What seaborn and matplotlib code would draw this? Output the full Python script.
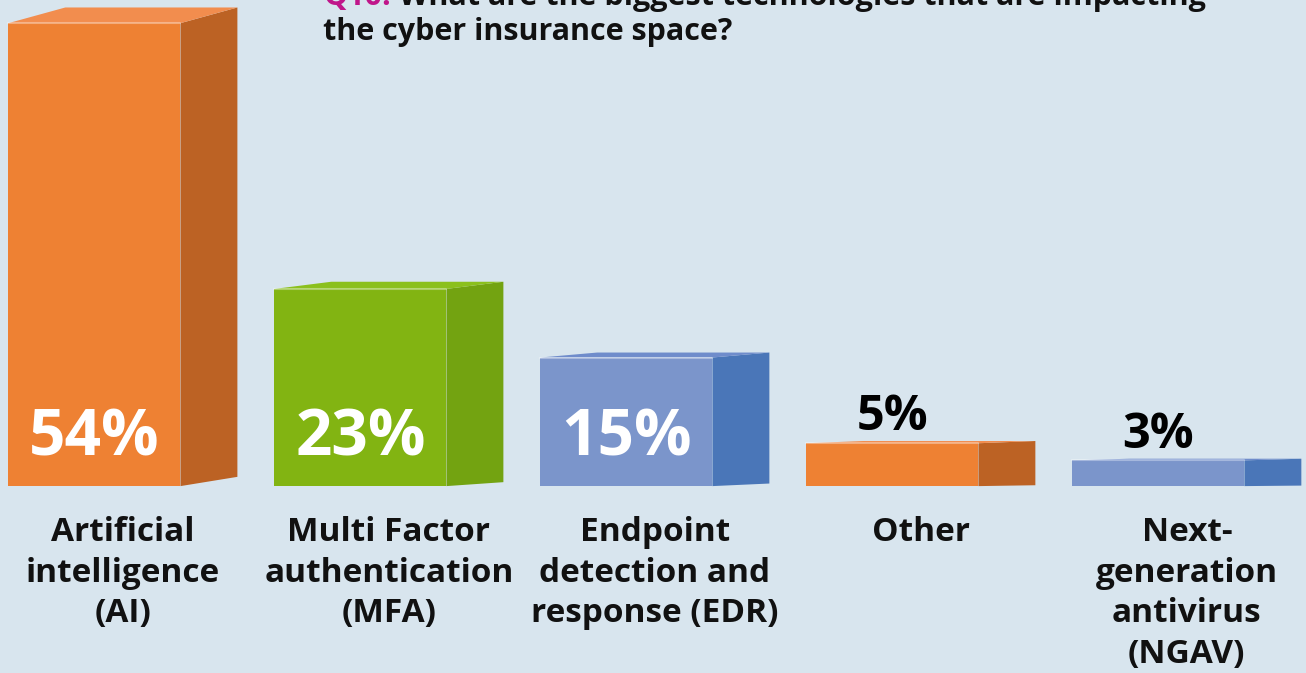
import matplotlib
matplotlib.use('Agg')
import matplotlib.pyplot as plt
from matplotlib.patches import Polygon
import pandas as pd
import seaborn as sns

# data
technologies = ['AI', 'MFA', 'EDR', 'Other', 'NGAV']
tick_labels = ['Artificial\nintelligence\n(AI)',
               'Multi Factor\nauthentication\n(MFA)',
               'Endpoint\ndetection and\nresponse (EDR)',
               'Other',
               'Next-\ngeneration\nantivirus\n(NGAV)']
values = [54, 23, 15, 5, 3]
value_labels = ['54%', '23%', '15%', '5%', '3%']

front_colors = ['#ee8133', '#82b412', '#7b95cb', '#ee8133', '#7b95cb']
side_colors = ['#bc6224', '#73a311', '#4a76b8', '#bc6224', '#4a76b8']
top_colors = ['#f28d4e', '#8bc01c', '#6f8ccb', '#f28d4e', '#6f8ccb']
bg = '#d8e5ee'

sns.set_theme(style='white')
plt.rcParams['font.family'] = ['Open Sans', 'DejaVu Sans']

df = pd.DataFrame({'tech': technologies, 'pct': values})

fig = plt.figure(figsize=(13.06, 6.73), dpi=100)
fig.patch.set_facecolor(bg)
ax = fig.add_axes([0, 0, 1, 1])
ax.set_facecolor(bg)

sns.barplot(data=df, x='tech', y='pct', hue='tech', palette=front_colors,
            width=0.647, saturation=1, legend=False, ax=ax, linewidth=0)

ax.set_xlim(-0.355, 4.555)
ax.set_ylim(-21.8, 56.7)
ax.axis('off')

# fake 3d: side and top faces
dx = 0.214
for i, p in enumerate(ax.patches):
    x0, w, h = p.get_x(), p.get_width(), p.get_height()
    dy_top = 0.032 * h + 0.1
    dy_bot = 0.02 * h
    side = Polygon([(x0 + w, 0), (x0 + w, h), (x0 + w + dx, h + dy_top),
                    (x0 + w + dx, dy_bot)], closed=True,
                   facecolor=side_colors[i], edgecolor='none')
    top = Polygon([(x0, h), (x0 + w, h), (x0 + w + dx, h + dy_top),
                   (x0 + dx, h + dy_top)], closed=True,
                  facecolor=top_colors[i], edgecolor='none')
    ax.add_patch(side)
    ax.add_patch(top)
    ax.plot([x0, x0 + w], [h, h], color='white', alpha=0.35, lw=1.5)

    cx = x0 + w / 2
    if values[i] >= 10:
        ax.text(cx, 3.6, value_labels[i], ha='center', va='baseline',
                color='white', fontsize=46, fontweight='bold')
    else:
        ax.text(cx, values[i] + 1.5, value_labels[i], ha='center',
                va='baseline', color='black', fontsize=35, fontweight='bold')

    ax.text(i + dx / 2, -3.5, tick_labels[i], ha='center', va='top',
            fontsize=24, fontweight='bold', color='#111111', linespacing=1.3)

# title, first line cut off by the top edge as in the original
q = fig.text(323 / 1306, 1 - 5 / 673, 'Q10:', color='#c0168a', fontsize=22,
             fontweight='bold', va='baseline')
ax.annotate(' What are the biggest technologies that are impacting',
            xy=(1, 0), xycoords=q, ha='left', va='bottom', fontsize=22,
            fontweight='bold', color='#111111')
fig.text(323 / 1306, 1 - 40 / 673, 'the cyber insurance space?', fontsize=22,
         fontweight='bold', va='baseline', color='#111111')

fig.savefig('out.png', dpi=100, facecolor=bg)
